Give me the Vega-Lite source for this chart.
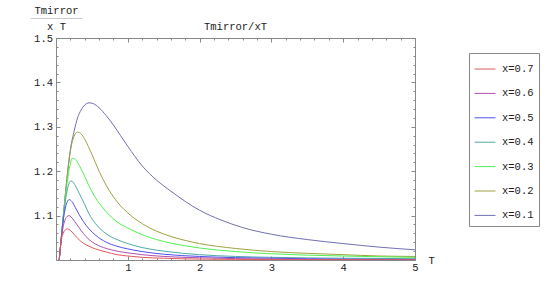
{
  "$schema": "https://vega.github.io/schema/vega-lite/v6.json",
  "autosize": {"type": "none"},
  "width": 359,
  "height": 222,
  "padding": {"left": 56, "top": 38, "right": 138, "bottom": 22},
  "background": "white",
  "title": {"text": "Tmirror/xT", "font": "Liberation Mono", "fontSize": 10.5, "fontWeight": "normal", "color": "#222", "offset": 6, "dy": 33},
  "config": {
    "view": {"stroke": null},
    "axis": {"labelFont": "Liberation Mono", "labelFontSize": 10.5, "labelColor": "#222", "domainColor": "#888", "tickColor": "#888", "grid": false, "titleFont": "Liberation Mono", "titleFontSize": 10.5, "titleFontWeight": "normal", "titleColor": "#222"}
  },
  "data": {"values": [
    {"s":"x=0.1","T":0.045,"v":1.0},{"s":"x=0.1","T":0.07,"v":1.044},{"s":"x=0.1","T":0.1,"v":1.096},{"s":"x=0.1","T":0.15,"v":1.18},{"s":"x=0.1","T":0.2,"v":1.248},{"s":"x=0.1","T":0.255,"v":1.292},{"s":"x=0.1","T":0.3,"v":1.32},{"s":"x=0.1","T":0.35,"v":1.338},{"s":"x=0.1","T":0.4,"v":1.349},{"s":"x=0.1","T":0.46,"v":1.354},{"s":"x=0.1","T":0.52,"v":1.352},{"s":"x=0.1","T":0.6,"v":1.343},{"s":"x=0.1","T":0.7,"v":1.325},{"s":"x=0.1","T":0.8,"v":1.304},{"s":"x=0.1","T":0.9,"v":1.28},{"s":"x=0.1","T":1.0,"v":1.256},{"s":"x=0.1","T":1.2,"v":1.212},{"s":"x=0.1","T":1.4,"v":1.18},{"s":"x=0.1","T":1.6,"v":1.155},{"s":"x=0.1","T":1.8,"v":1.132},{"s":"x=0.1","T":2.0,"v":1.112},{"s":"x=0.1","T":2.3,"v":1.09},{"s":"x=0.1","T":2.6,"v":1.073},{"s":"x=0.1","T":3.0,"v":1.058},{"s":"x=0.1","T":3.5,"v":1.046},{"s":"x=0.1","T":4.0,"v":1.037},{"s":"x=0.1","T":4.5,"v":1.029},{"s":"x=0.1","T":5.0,"v":1.023},
    {"s":"x=0.2","T":0.045,"v":1.0},{"s":"x=0.2","T":0.07,"v":1.044},{"s":"x=0.2","T":0.1,"v":1.096},{"s":"x=0.2","T":0.15,"v":1.18},{"s":"x=0.2","T":0.2,"v":1.245},{"s":"x=0.2","T":0.25,"v":1.278},{"s":"x=0.2","T":0.3,"v":1.288},{"s":"x=0.2","T":0.35,"v":1.284},{"s":"x=0.2","T":0.4,"v":1.272},{"s":"x=0.2","T":0.5,"v":1.238},{"s":"x=0.2","T":0.6,"v":1.2},{"s":"x=0.2","T":0.7,"v":1.168},{"s":"x=0.2","T":0.8,"v":1.142},{"s":"x=0.2","T":0.9,"v":1.122},{"s":"x=0.2","T":1.0,"v":1.106},{"s":"x=0.2","T":1.2,"v":1.082},{"s":"x=0.2","T":1.4,"v":1.065},{"s":"x=0.2","T":1.6,"v":1.053},{"s":"x=0.2","T":1.8,"v":1.044},{"s":"x=0.2","T":2.0,"v":1.037},{"s":"x=0.2","T":2.5,"v":1.026},{"s":"x=0.2","T":3.0,"v":1.019},{"s":"x=0.2","T":3.5,"v":1.015},{"s":"x=0.2","T":4.0,"v":1.012},{"s":"x=0.2","T":4.5,"v":1.009},{"s":"x=0.2","T":5.0,"v":1.008},
    {"s":"x=0.3","T":0.045,"v":1.0},{"s":"x=0.3","T":0.07,"v":1.044},{"s":"x=0.3","T":0.1,"v":1.095},{"s":"x=0.3","T":0.13,"v":1.14},{"s":"x=0.3","T":0.16,"v":1.18},{"s":"x=0.3","T":0.19,"v":1.21},{"s":"x=0.3","T":0.23,"v":1.229},{"s":"x=0.3","T":0.26,"v":1.228},{"s":"x=0.3","T":0.3,"v":1.22},{"s":"x=0.3","T":0.35,"v":1.205},{"s":"x=0.3","T":0.4,"v":1.188},{"s":"x=0.3","T":0.46,"v":1.167},{"s":"x=0.3","T":0.55,"v":1.14},{"s":"x=0.3","T":0.65,"v":1.118},{"s":"x=0.3","T":0.75,"v":1.1},{"s":"x=0.3","T":0.85,"v":1.086},{"s":"x=0.3","T":1.0,"v":1.072},{"s":"x=0.3","T":1.2,"v":1.057},{"s":"x=0.3","T":1.4,"v":1.046},{"s":"x=0.3","T":1.6,"v":1.038},{"s":"x=0.3","T":1.8,"v":1.032},{"s":"x=0.3","T":2.0,"v":1.027},{"s":"x=0.3","T":2.5,"v":1.019},{"s":"x=0.3","T":3.0,"v":1.014},{"s":"x=0.3","T":4.0,"v":1.009},{"s":"x=0.3","T":5.0,"v":1.006},
    {"s":"x=0.4","T":0.045,"v":1.0},{"s":"x=0.4","T":0.07,"v":1.044},{"s":"x=0.4","T":0.1,"v":1.092},{"s":"x=0.4","T":0.13,"v":1.132},{"s":"x=0.4","T":0.16,"v":1.16},{"s":"x=0.4","T":0.185,"v":1.174},{"s":"x=0.4","T":0.21,"v":1.178},{"s":"x=0.4","T":0.24,"v":1.175},{"s":"x=0.4","T":0.28,"v":1.164},{"s":"x=0.4","T":0.33,"v":1.148},{"s":"x=0.4","T":0.4,"v":1.125},{"s":"x=0.4","T":0.46,"v":1.104},{"s":"x=0.4","T":0.55,"v":1.082},{"s":"x=0.4","T":0.7,"v":1.059},{"s":"x=0.4","T":0.85,"v":1.046},{"s":"x=0.4","T":1.0,"v":1.037},{"s":"x=0.4","T":1.2,"v":1.028},{"s":"x=0.4","T":1.5,"v":1.02},{"s":"x=0.4","T":2.0,"v":1.012},{"s":"x=0.4","T":2.5,"v":1.008},{"s":"x=0.4","T":3.0,"v":1.006},{"s":"x=0.4","T":4.0,"v":1.004},{"s":"x=0.4","T":5.0,"v":1.003},
    {"s":"x=0.5","T":0.045,"v":1.0},{"s":"x=0.5","T":0.07,"v":1.043},{"s":"x=0.5","T":0.1,"v":1.088},{"s":"x=0.5","T":0.13,"v":1.117},{"s":"x=0.5","T":0.16,"v":1.132},{"s":"x=0.5","T":0.185,"v":1.136},{"s":"x=0.5","T":0.22,"v":1.132},{"s":"x=0.5","T":0.27,"v":1.118},{"s":"x=0.5","T":0.32,"v":1.103},{"s":"x=0.5","T":0.38,"v":1.087},{"s":"x=0.5","T":0.46,"v":1.07},{"s":"x=0.5","T":0.55,"v":1.056},{"s":"x=0.5","T":0.7,"v":1.04},{"s":"x=0.5","T":0.85,"v":1.031},{"s":"x=0.5","T":1.0,"v":1.025},{"s":"x=0.5","T":1.2,"v":1.019},{"s":"x=0.5","T":1.5,"v":1.013},{"s":"x=0.5","T":2.0,"v":1.008},{"s":"x=0.5","T":3.0,"v":1.004},{"s":"x=0.5","T":4.0,"v":1.002},{"s":"x=0.5","T":5.0,"v":1.001},
    {"s":"x=0.6","T":0.045,"v":1.0},{"s":"x=0.6","T":0.07,"v":1.042},{"s":"x=0.6","T":0.1,"v":1.075},{"s":"x=0.6","T":0.13,"v":1.092},{"s":"x=0.6","T":0.155,"v":1.098},{"s":"x=0.6","T":0.18,"v":1.1},{"s":"x=0.6","T":0.21,"v":1.097},{"s":"x=0.6","T":0.26,"v":1.087},{"s":"x=0.6","T":0.32,"v":1.073},{"s":"x=0.6","T":0.38,"v":1.06},{"s":"x=0.6","T":0.46,"v":1.046},{"s":"x=0.6","T":0.55,"v":1.036},{"s":"x=0.6","T":0.7,"v":1.026},{"s":"x=0.6","T":0.85,"v":1.02},{"s":"x=0.6","T":1.0,"v":1.016},{"s":"x=0.6","T":1.2,"v":1.012},{"s":"x=0.6","T":1.5,"v":1.008},{"s":"x=0.6","T":2.0,"v":1.005},{"s":"x=0.6","T":3.0,"v":1.002},{"s":"x=0.6","T":4.0,"v":1.001},{"s":"x=0.6","T":5.0,"v":1.001},
    {"s":"x=0.7","T":0.045,"v":1.0},{"s":"x=0.7","T":0.07,"v":1.04},{"s":"x=0.7","T":0.1,"v":1.06},{"s":"x=0.7","T":0.13,"v":1.068},{"s":"x=0.7","T":0.163,"v":1.07},{"s":"x=0.7","T":0.2,"v":1.067},{"s":"x=0.7","T":0.25,"v":1.058},{"s":"x=0.7","T":0.3,"v":1.049},{"s":"x=0.7","T":0.38,"v":1.038},{"s":"x=0.7","T":0.46,"v":1.031},{"s":"x=0.7","T":0.55,"v":1.025},{"s":"x=0.7","T":0.7,"v":1.018},{"s":"x=0.7","T":0.85,"v":1.012},{"s":"x=0.7","T":1.0,"v":1.009},{"s":"x=0.7","T":1.2,"v":1.006},{"s":"x=0.7","T":1.5,"v":1.004},{"s":"x=0.7","T":2.0,"v":1.002},{"s":"x=0.7","T":3.0,"v":1.001},{"s":"x=0.7","T":5.0,"v":1.0}
  ]},
  "resolve": {"axis": {"x": "independent", "y": "independent"}},
  "layer": [
    {
      "mark": {"type": "line", "interpolate": "monotone", "strokeWidth": 1, "clip": true},
      "encoding": {
        "x": {"field": "T", "type": "quantitative", "scale": {"domain": [0, 5], "nice": false, "zero": false},
          "axis": {"orient": "bottom", "values": [1,2,3,4,5], "format": "d", "ticks": false,
            "labelPadding": 2, "labelFlush": false, "labelOverlap": false,
            "title": "T", "titleX": 372, "titleY": 0, "titleAlign": "left", "titleBaseline": "middle", "titleAnchor": null}},
        "y": {"field": "v", "type": "quantitative", "scale": {"domain": [1.0, 1.5], "nice": false, "zero": false},
          "axis": {"orient": "left", "values": [1.1,1.2,1.3,1.4,1.5], "format": ".1f", "ticks": false,
            "labelPadding": 3.5, "labelFlush": false, "labelOverlap": false,
            "title": ["Tmirror", "x T"], "titleAngle": 0, "titleX": 0, "titleY": -28, "titleAlign": "center", "titleBaseline": "middle", "titleLineHeight": 16}},
        "color": {"field": "s", "type": "nominal",
          "scale": {"domain": ["x=0.7","x=0.6","x=0.5","x=0.4","x=0.3","x=0.2","x=0.1"], "range": ["#e05a5a","#b050b0","#5050f0","#50a8a8","#50f050","#a0a040","#7070b0"]},
          "legend": {"orient": "none", "legendX": 413, "legendY": 15, "title": null, "symbolType": "stroke", "symbolSize": 441, "symbolStrokeWidth": 1, "rowPadding": 7.4, "padding": 5, "strokeColor": "#888", "labelFont": "Liberation Mono", "labelFontSize": 10.5, "labelColor": "#222", "labelOffset": 6}}
      }
    },
    {
      "mark": {"type": "line", "strokeOpacity": 0, "clip": true},
      "encoding": {
        "detail": {"field": "s", "type": "nominal"},
        "x": {"field": "T", "type": "quantitative",
          "axis": {"orient": "top", "values": [0,0.2,0.4,0.6,0.8,1,1.2,1.4,1.6,1.8,2,2.2,2.4,2.6,2.8,3,3.2,3.4,3.6,3.8,4,4.2,4.4,4.6,4.8,5], "labels": false,
            "title": "───────────────────", "titleFontSize": 4.5, "titleColor": "#555", "titleX": 0, "titleY": -20, "titleAlign": "center", "titleBaseline": "middle", "titleAnchor": null,
            "tickSize": {"condition": {"test": "abs(datum.value - round(datum.value)) < 0.001", "value": -4}, "value": -2}}},
        "y": {"field": "v", "type": "quantitative",
          "axis": {"orient": "right", "values": [1,1.02,1.04,1.06,1.08,1.1,1.12,1.14,1.16,1.18,1.2,1.22,1.24,1.26,1.28,1.3,1.32,1.34,1.36,1.38,1.4,1.42,1.44,1.46,1.48,1.5], "labels": false, "title": null,
            "tickSize": {"condition": {"test": "abs(datum.value*10 - round(datum.value*10)) < 0.001", "value": -4}, "value": -2}}}
      }
    },
    {
      "mark": {"type": "line", "strokeOpacity": 0, "clip": true},
      "encoding": {
        "detail": {"field": "s", "type": "nominal"},
        "x": {"field": "T", "type": "quantitative",
          "axis": {"orient": "bottom", "values": [0,0.2,0.4,0.6,0.8,1,1.2,1.4,1.6,1.8,2,2.2,2.4,2.6,2.8,3,3.2,3.4,3.6,3.8,4,4.2,4.4,4.6,4.8,5], "labels": false, "domain": false, "title": null,
            "tickSize": {"condition": {"test": "abs(datum.value - round(datum.value)) < 0.001", "value": -4}, "value": -2}}},
        "y": {"field": "v", "type": "quantitative",
          "axis": {"orient": "left", "values": [1,1.02,1.04,1.06,1.08,1.1,1.12,1.14,1.16,1.18,1.2,1.22,1.24,1.26,1.28,1.3,1.32,1.34,1.36,1.38,1.4,1.42,1.44,1.46,1.48,1.5], "labels": false, "domain": false, "title": null,
            "tickSize": {"condition": {"test": "abs(datum.value*10 - round(datum.value*10)) < 0.001", "value": -4}, "value": -2}}}
      }
    }
  ]
}
